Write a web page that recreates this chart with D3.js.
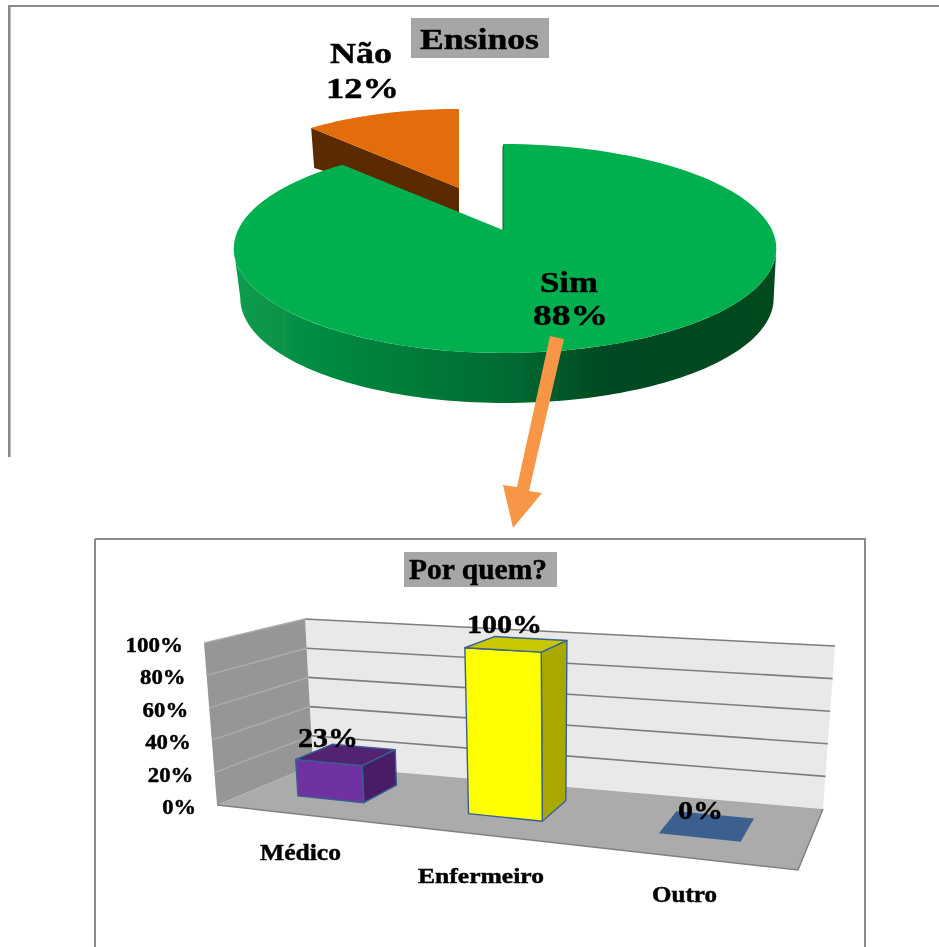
<!DOCTYPE html>
<html><head><meta charset="utf-8">
<script src="https://cdn.jsdelivr.net/npm/d3@7/dist/d3.min.js"></script>
<style>html,body{margin:0;background:#fff;overflow:hidden}svg{display:block}
text{font-family:"Liberation Serif","Times New Roman",serif;font-weight:bold;fill:#000;stroke:#000;stroke-width:.45px}</style>
</head><body><svg id="c" width="939" height="947"></svg>
<script>
const pieCategories = ["Sim", "Não"];
const pieValues = [88, 12];
const barCategories = ["Médico", "Enfermeiro", "Outro"];
const barValues = [23, 100, 0];
const barTicks = [0, 20, 40, 60, 80, 100];

const svg = d3.select("#c");
const defs = svg.append("defs");
const blur = defs.append("filter").attr("id","soft").attr("filterUnits","userSpaceOnUse")
  .attr("x",0).attr("y",0).attr("width",939).attr("height",947);
blur.append("feGaussianBlur").attr("stdDeviation",0.6);
const grad = defs.append("linearGradient").attr("id","side").attr("gradientUnits","userSpaceOnUse")
  .attr("x1",235).attr("x2",776).attr("y1",0).attr("y2",0);
[[0,"#0d9c4e"],[.2,"#00863f"],[.5,"#006c33"],[.68,"#004a20"],[1,"#00491f"]].forEach(([o,c])=>grad.append("stop").attr("offset",o).attr("stop-color",c));

const root = svg.append("g").attr("filter","url(#soft)");
const bw = (x1,y1,x2,y2,w)=>root.append("line").attr("x1",x1).attr("y1",y1).attr("x2",x2).attr("y2",y2).attr("stroke","#8a8a8a").attr("stroke-width",w||2);
bw(8,6,939,6); bw(9.3,6,9.3,457,2.6);
bw(95,539,866,539); bw(95,539,95,947); bw(865,539,865,947);

function label(str,x0,x1,base,size,parent){
  return (parent||root).append("text").attr("x",x0).attr("y",base).attr("font-size",size)
    .attr("textLength",x1-x0).attr("lengthAdjust","spacingAndGlyphs").text(str);
}
function titleBox(str,rx0,rx1,ry0,ry1,tx0,tx1,base,size){
  root.append("rect").attr("x",rx0).attr("y",ry0).attr("width",rx1-rx0).attr("height",ry1-ry0).attr("fill","#a6a6a6");
  label(str,tx0,tx1,base,size);
}

/* ---------- 3D pie ---------- */
const K = -0.177, RY = 101.2, APEX = [503,230];
function rim(a, s=1, dx=0, dy=0, shrink=1){
  const x = Math.sin(a), y = -Math.cos(a), d = 1 + K*y;
  const R = x < 0 ? 265 : 269;
  return [APEX[0] + dx + s*shrink*R*x/d, APEX[1] + dy + s*RY*y/d];
}
const arcs = d3.pie().sort(null)(pieValues);
const line = d3.line();
const sweep = (a0,a1,f)=>d3.range(0,121).map(i=>f(a0+(a1-a0)*i/120));
const rad = Math.PI/180;

// exploded slice
const no = arcs[1];
const S = .92, DX = -44, DY = -42;
const pNo = a=>rim(a,S,DX,DY);
const apexNo = [APEX[0]+DX, APEX[1]+DY];
const leftNo = pNo(no.startAngle);
root.append("path").attr("fill","#5b2c00").attr("d",line([
  leftNo, apexNo, [apexNo[0],apexNo[1]+25], [leftNo[0]+3,leftNo[1]+40]
])+"Z");
root.append("path").attr("fill","#e36c09").attr("d",line([apexNo,...sweep(no.startAngle,no.endAngle,pNo)])+"Z");

// side of the main slice
const top1 = sweep(100*rad,260*rad,a=>rim(a));
const bot1 = sweep(260*rad,100*rad,a=>rim(a,1,2,50,.983));
root.append("path").attr("fill","url(#side)").attr("d",line([...top1,...bot1])+"Z");
root.append("path").attr("fill","#00b050").attr("d",line([APEX,...sweep(arcs[0].startAngle,arcs[0].endAngle,a=>rim(a))])+"Z");
root.append("line").attr("x1",503).attr("y1",146).attr("x2",503).attr("y2",230).attr("stroke","#00602c").attr("stroke-width",1);

titleBox("Ensinos",411,549,18,58,420,539,49,30);
label(`${pieCategories[1]}`,330,392,63,29);
label(`${pieValues[1]}%`,326,399,98,30);
label(`${pieCategories[0]}`,540,598,292,30);
label(`${pieValues[0]}%`,533,608,325,30);

// arrow between the charts
root.append("path").attr("fill","#f79646")
  .attr("d","M550,336L564,339L529,491L542,493L513,528L503,485L517,487Z");

/* ---------- 3D column chart ---------- */
titleBox("Por quem?",404,557,552,587,409,547,579,29);
const F0=[217,805],F1=[798,870],B0=[313,765],B1=[823,809];
const TF0=[204,643],TF1=[804,680],TB0=[305,619],TB1=[835,646];
const lerp=(p,q,t)=>[p[0]+(q[0]-p[0])*t,p[1]+(q[1]-p[1])*t];
const valueScale = d3.scaleLinear().domain([0,100]).range([0,1]);
function project(u,v,h){
  const bottom = lerp(lerp(F0,F1,u),lerp(B0,B1,u),v);
  const topP = lerp(lerp(TF0,TF1,u),lerp(TB0,TB1,u),v);
  return lerp(bottom,topP,h);
}
const band = d3.scaleBand().domain(barCategories).range([0,1]).paddingInner(.6).paddingOuter(.3);
const warp = t=>.835*t+.16*t*t;
const poly=(pts,fill,stroke,sw)=>root.append("path").attr("d",line(pts)+"Z").attr("fill",fill)
  .attr("stroke",stroke||"none").attr("stroke-width",sw||0).attr("stroke-linejoin","round");

poly([project(0,1,1),project(1,1,1),project(1,1,0),project(0,1,0)],"#e9e9e9");
poly([project(0,0,1),project(0,1,1),project(0,1,0),project(0,0,0)],"#969696");
poly([project(0,0,0),project(0,1,0),project(1,1,0),project(1,0,0)],"#ababab");
root.append("path").attr("fill","none").attr("stroke","#808080").attr("stroke-width",1.5)
  .attr("d",line([project(0,0,0),project(1,0,0),project(1,1,0)]));

barTicks.forEach(t=>{
  const h=valueScale(t);
  if(t>0){
    root.append("path").attr("fill","none").attr("stroke","#adadad").attr("stroke-width",1.4)
      .attr("d",line([project(0,0,h),project(0,1,h)]));
    root.append("path").attr("fill","none").attr("stroke","#7d7d7d").attr("stroke-width",1.6)
      .attr("d",line([project(0,1,h),project(1,1,h)]));
  }
  const p=project(0,0,h);
  const w = String(t).length*11.8+ 22;
  label(`${t}%`,p[0]-21-w,p[0]-21,p[1]+9,22);
});

const barStyle={"Médico":["#7030a0","#53246f","#4a1f66"],"Enfermeiro":["#ffff00","#c8c800","#a8a800"],"Outro":["#3a6090","#3a6090","#3a6090"]};
const V0=.35,V1=.75, EDGE="#376092";
barCategories.forEach((c,i)=>{
  const u0=warp(band(c)),u1=warp(band(c)+band.bandwidth()),h=valueScale(barValues[i]);
  const [f,t,s]=barStyle[c];
  if(h>0){
    poly([project(u1,V0,0),project(u1,V1,0),project(u1,V1,h),project(u1,V0,h)],s,EDGE,1.4);
    poly([project(u0,V0,0),project(u1,V0,0),project(u1,V0,h),project(u0,V0,h)],f,EDGE,1.4);
  }
  poly([project(u0,V0,h),project(u1,V0,h),project(u1,V1,h),project(u0,V1,h)],t,h>0?EDGE:null,1.4);
});
label(`${barValues[0]}%`,298,358,747,27);
label(`${barValues[1]}%`,467,542,633,26);
label(`${barValues[2]}%`,678,723,819,26);
label(barCategories[0],260,341,860,24);
label(barCategories[1],418,544,883,22);
label(barCategories[2],652,717,902,23);
</script></body></html>
